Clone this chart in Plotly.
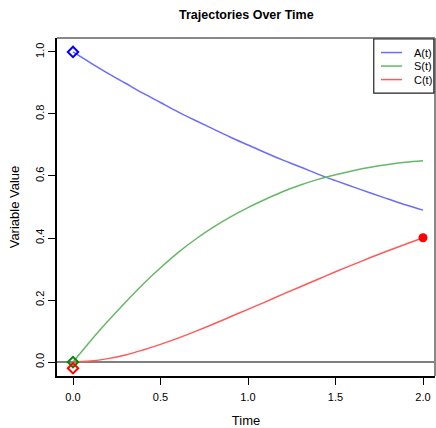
import plotly.graph_objects as go

time = [0.0, 0.1, 0.2, 0.3, 0.4, 0.5, 0.6, 0.7, 0.8, 0.9, 1.0,
        1.1, 1.2, 1.3, 1.4, 1.5, 1.6, 1.7, 1.8, 1.9, 2.0]
A_vals = [1.000, 0.965, 0.931, 0.899, 0.867, 0.837, 0.807, 0.779, 0.752, 0.725, 0.700,
          0.675, 0.651, 0.629, 0.606, 0.585, 0.565, 0.545, 0.526, 0.507, 0.490]
S_vals = [0.000, 0.068, 0.132, 0.193, 0.251, 0.304, 0.353, 0.396, 0.434, 0.468, 0.498,
          0.525, 0.550, 0.571, 0.589, 0.604, 0.617, 0.628, 0.637, 0.644, 0.649]
C_vals = [0.000, 0.003, 0.011, 0.023, 0.039, 0.057, 0.077, 0.099, 0.122, 0.146, 0.170,
          0.194, 0.219, 0.243, 0.267, 0.291, 0.314, 0.337, 0.359, 0.380, 0.401]

start_t = [0.0, 0.0, 0.0]
start_vals = [1.0, 0.0, -0.02]
end_t = [2.0]
end_vals = [0.401]

names = ["A(t)", "S(t)", "C(t)"]
line_colors = ["#6b6bff", "#66b866", "#ff5a5a"]
marker_colors = ["#0000ff", "#008800", "#ff0000"]

x_ticks = [0.0, 0.5, 1.0, 1.5, 2.0]
y_ticks = [0.0, 0.2, 0.4, 0.6, 0.8, 1.0]

fig = go.Figure()
for name, vals, col in zip(names, [A_vals, S_vals, C_vals], line_colors):
    fig.add_trace(go.Scatter(x=time, y=vals, mode="lines", name=name, showlegend=False,
                             line=dict(color=col, width=1.5, shape="spline")))

for t0, v0, col in zip(start_t, start_vals, marker_colors):
    fig.add_trace(go.Scatter(x=[t0], y=[v0], mode="markers", showlegend=False,
                             marker=dict(symbol="diamond-open", size=8, color=col,
                                         line=dict(width=2, color=col))))

fig.add_trace(go.Scatter(x=end_t, y=end_vals, mode="markers", showlegend=False,
                         marker=dict(symbol="circle", size=9, color="#ff0000")))

fig.add_hline(y=0, line=dict(color="#808080", width=2), layer="below")
# top and right frame in grey
fig.add_shape(type="line", xref="paper", yref="paper", x0=0, x1=1, y0=1, y1=1,
              line=dict(color="#888888", width=2))
fig.add_shape(type="line", xref="paper", yref="paper", x0=1, x1=1, y0=0, y1=1,
              line=dict(color="#888888", width=2))

# legend box (drawn by hand to match the compact R-style legend)
fig.add_shape(type="rect", xref="paper", yref="paper", x0=0.838, x1=0.997,
              y0=0.837, y1=0.997, line=dict(color="#222222", width=1.2),
              fillcolor="white", layer="above")
legend_y = [0.957, 0.917, 0.877]
for name, col, ly in zip(names, line_colors, legend_y):
    fig.add_shape(type="line", xref="paper", yref="paper", x0=0.857, x1=0.913,
                  y0=ly, y1=ly, line=dict(color=col, width=1.5), layer="above")
    fig.add_annotation(xref="paper", yref="paper", x=0.938, y=ly, text=name,
                       showarrow=False, xanchor="left", yanchor="middle",
                       font=dict(size=11, color="black"))

fig.update_layout(
    width=436, height=428,
    margin=dict(l=57, r=1, t=38, b=52),
    paper_bgcolor="white", plot_bgcolor="white",
    font=dict(family="Liberation Sans, Arial, sans-serif", size=11, color="black"),
    title=dict(text="<b>Trajectories Over Time</b>", x=0.565, xanchor="center",
               y=0.975, yanchor="top", font=dict(size=12.5)),
    xaxis=dict(range=[-0.0914, 2.0686], tickvals=x_ticks,
               ticktext=[f"{v:.1f}" for v in x_ticks],
               showgrid=False, zeroline=False, showline=True, linecolor="black",
               linewidth=1.5, ticks="outside", ticklen=7, tickcolor="black",
               ticklabelstandoff=3,
               title=dict(text="Time", standoff=14), tickfont=dict(size=11)),
    yaxis=dict(range=[-0.045, 1.045], tickvals=y_ticks,
               ticktext=[f"{v:.1f}" for v in y_ticks], tickangle=-90,
               showgrid=False, zeroline=False, showline=True, linecolor="black",
               linewidth=1.5, ticks="outside", ticklen=7, tickcolor="black",
               title=dict(text="Variable Value", standoff=11), tickfont=dict(size=11)),
    showlegend=False,
)

fig.write_html("out.html", post_script="document.body.style.margin='0';",
               config={"displayModeBar": False})
